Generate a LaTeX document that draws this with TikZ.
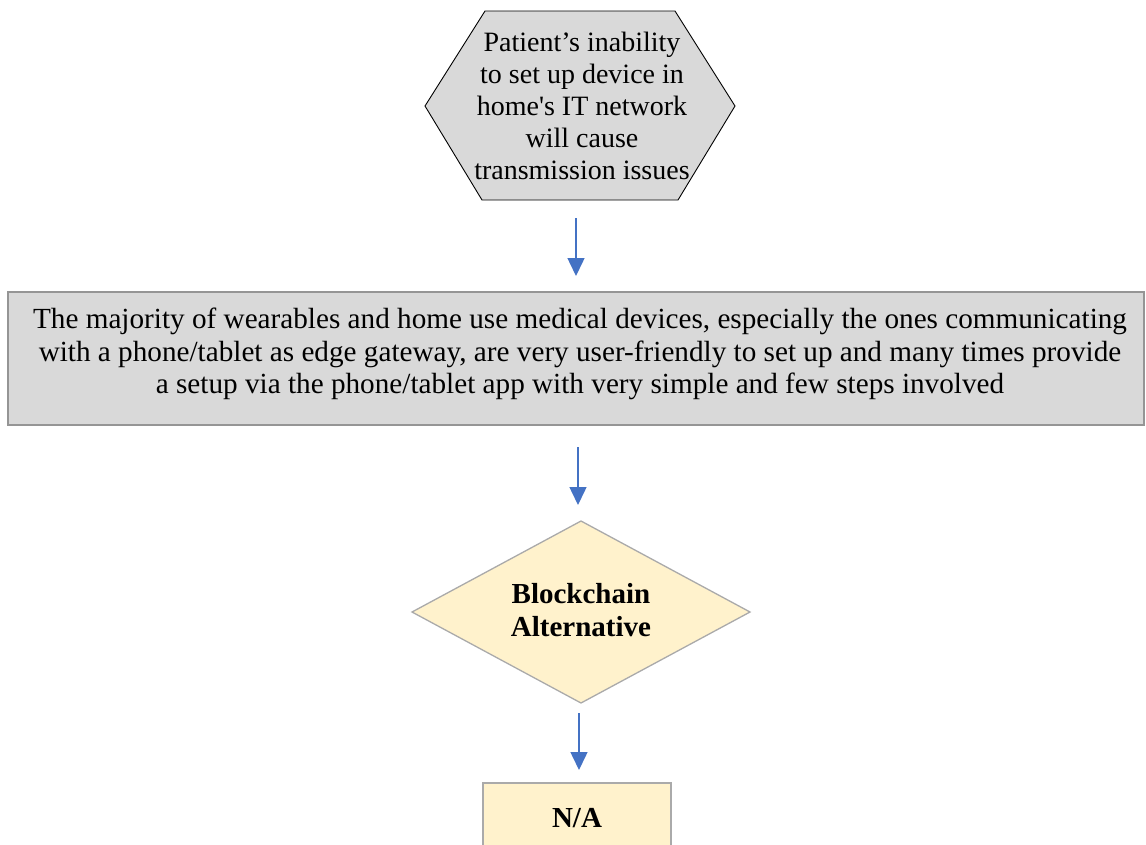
\documentclass[tikz,border=0pt]{standalone}
\usepackage{fontspec}
\setmainfont{Liberation Serif}
\newfontfamily\plainserif{Liberation Serif}
\usetikzlibrary{arrows.meta}
\definecolor{boxgray}{HTML}{D9D9D9}
\definecolor{edgegray}{HTML}{959595}
\definecolor{paleyellow}{HTML}{FFF2CC}
\definecolor{arrowblue}{HTML}{4472C4}
\tikzset{
  hextxt/.style={align=center, font=\fontsize{28}{32}\selectfont, inner sep=0pt},
  txt/.style={align=center, font=\fontsize{29.2}{32.5}\selectfont, inner sep=0pt},
  boldtxt/.style={align=center, font=\fontsize{29}{33}\selectfont\bfseries, inner sep=0pt},
  hexshape/.style={draw=black, fill=boxgray, line width=0.9pt},
  graybox/.style={draw=edgegray, fill=boxgray, line width=1.3pt},
  yellowshape/.style={draw=edgegray!80, fill=paleyellow, line width=1.3pt},
  flow/.style={draw=arrowblue, line width=1.5pt, -{Triangle[width=17pt,length=18pt]}}
}
\begin{document}
\begin{tikzpicture}[x=1pt,y=-1pt]
\useasboundingbox (0,0) rectangle (1146,844);
% hexagon
\draw[hexshape] (485,11) -- (675,11) -- (735,106) -- (678,200) -- (482,200) -- (425,106) -- cycle;
\node[hextxt] (hex) at (582,106) {Patient’s inability\\to set up device in\\home{\plainserif'}s IT network\\will cause\\transmission issues};
% big box
\node[graybox, minimum width=1136pt, minimum height=133pt, inner sep=0pt] (box) at (576,358.5) {};
\node[txt] (boxtext) at (580,354) {The majority of wearables and home use medical devices, especially the ones communicating\\with a phone/tablet as edge gateway, are very user-friendly to set up and many times provide\\a setup via the phone/tablet app with very simple and few steps involved};
% diamond
\draw[yellowshape] (581,521) -- (750,612) -- (581,703) -- (412,612) -- cycle;
\node[boldtxt] (dia) at (581,610) {Blockchain\\Alternative};
% N/A box
\draw[yellowshape] (483,850) -- (483,783) -- (671,783) -- (671,850);
\node[boldtxt] (na) at (577,818) {N/A};
% arrows
\coordinate (a1s) at (576,218);
\coordinate (a1e) at (576,276);
\coordinate (a2s) at (578,447);
\coordinate (a2e) at (578,505);
\coordinate (a3s) at (579,713);
\coordinate (a3e) at (579,770);
\draw[flow] (a1s) -- (a1e);
\draw[flow] (a2s) -- (a2e);
\draw[flow] (a3s) -- (a3e);
\end{tikzpicture}
\end{document}
